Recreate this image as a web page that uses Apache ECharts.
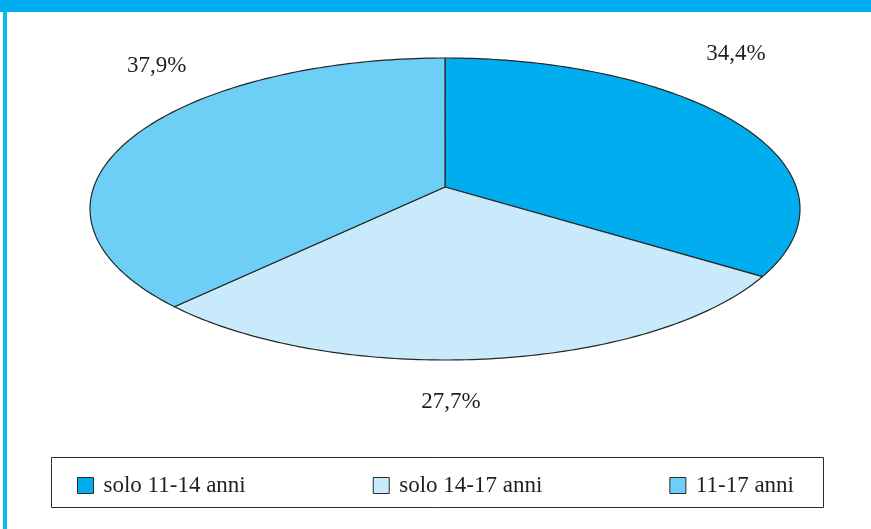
<!DOCTYPE html>
<html>
<head>
<meta charset="utf-8">
<title>Fasce d'età</title>
<script src="https://cdn.jsdelivr.net/npm/echarts@6/dist/echarts.min.js"></script>
<style>
  html, body { margin: 0; padding: 0; background: #ffffff; }
  #chart { width: 871px; height: 529px; }
</style>
</head>
<body>
<div id="chart"></div>
<script>
// Categories and shares (%)
var categories = ['solo 11-14 anni', 'solo 14-17 anni', '11-17 anni'];
var shares = [34.4, 27.7, 37.9];
var sliceColors = ['#00AEEF', '#C8EAFA', '#6DCFF6'];

// Cumulative start of each slice, as a fraction of the whole
var total = shares.reduce(function (a, b) { return a + b; }, 0);
var startFrac = [];
var acc = 0;
for (var i = 0; i < shares.length; i++) { startFrac.push(acc / total); acc += shares[i]; }

// Tilted disc drawn in perspective: centre, half-axes and depth factor
var DISC = { cx: 445, cy: 187, a: 351.2, b: 147.8, k: 0.1457 };
// Label placement relative to the rim point at the slice's mid angle
var labelNudge = [[1, -68], [-39, 43], [21, -69]];

function project(phi, r) {
  var s = Math.sin(phi) * r, c = Math.cos(phi) * r;
  var w = 1 + DISC.k * c;
  return [DISC.cx + DISC.a * s / w, DISC.cy - DISC.b * c / w];
}

function fmt(v) { return v.toFixed(1).replace('.', ',') + '%'; }

function renderSlice(params, api) {
  var idx = params.seriesIndex;
  var value = api.value(0);
  var f0 = startFrac[idx];
  var f1 = f0 + value / total;
  var p0 = f0 * Math.PI * 2, p1 = f1 * Math.PI * 2;
  var pts = [project(0, 0)];
  var steps = 120;
  for (var j = 0; j <= steps; j++) {
    pts.push(project(p0 + (p1 - p0) * j / steps, 1));
  }
  var mid = project((p0 + p1) / 2, 1);
  return {
    type: 'group',
    children: [
      {
        type: 'polygon',
        shape: { points: pts },
        style: { fill: sliceColors[idx], stroke: '#262626', lineWidth: 1.2, lineJoin: 'round' }
      },
      {
        type: 'text',
        x: mid[0] + labelNudge[idx][0],
        y: mid[1] + labelNudge[idx][1],
        style: {
          text: fmt(value),
          fill: '#231f20',
          font: '23px "Liberation Serif", serif',
          align: 'center',
          verticalAlign: 'middle'
        }
      }
    ]
  };
}

var series = categories.map(function (name, i) {
  return {
    type: 'custom',
    name: name,
    coordinateSystem: 'none',
    renderItem: renderSlice,
    itemStyle: { color: sliceColors[i], borderColor: '#2b2b2b', borderWidth: 1 },
    data: [[shares[i]]],
    silent: true
  };
});

var chart = echarts.init(document.getElementById('chart'), null, { renderer: 'canvas' });
chart.setOption({
  animation: false,
  backgroundColor: '#ffffff',
  color: sliceColors,
  graphic: [
    { type: 'rect', shape: { x: 0, y: 0, width: 871, height: 12 }, style: { fill: '#00AEEF' }, z: 0 },
    { type: 'rect', shape: { x: 3, y: 12, width: 4, height: 517 }, style: { fill: '#0BB8EF' }, z: 0 },
    { type: 'rect', shape: { x: 51.5, y: 457.5, width: 772, height: 50 }, style: { fill: 'none', stroke: '#2b2b2b', lineWidth: 1 }, z: 0 }
  ],
  legend: {
    data: categories,
    left: 77,
    top: 474,
    padding: 0,
    itemGap: 127,
    itemWidth: 16,
    itemHeight: 16,
    icon: 'rect',
    itemStyle: { borderColor: '#2b2b2b', borderWidth: 1 },
    textStyle: { fontFamily: '"Liberation Serif", serif', fontSize: 23, color: '#231f20', padding: [0, 0, 0, 5] },
    selectedMode: false
  },
  series: series
});
</script>
</body>
</html>
